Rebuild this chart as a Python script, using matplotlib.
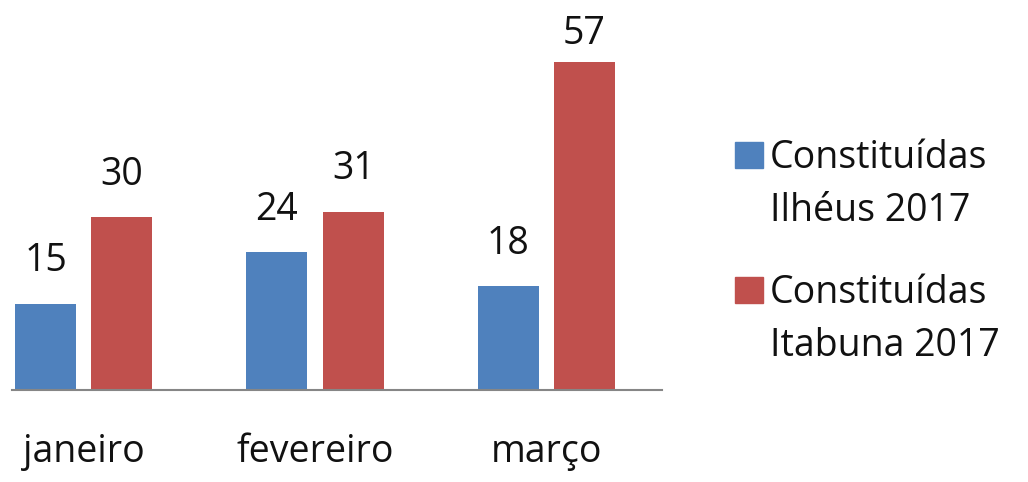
import numpy as np
import matplotlib.pyplot as plt
from matplotlib.patches import Rectangle

categories = ["janeiro", "fevereiro", "março"]
ilheus = [15, 24, 18]
itabuna = [30, 31, 57]
series_names = ["Constituídas\nIlhéus 2017", "Constituídas\nItabuna 2017"]
colors = ["#4F81BD", "#C0504D"]

W, H = 1028, 482


def main():
    plt.rcParams["font.family"] = ["Open Sans", "DejaVu Sans"]
    fig = plt.figure(figsize=(W / 100, H / 100), dpi=100)
    fig.patch.set_facecolor("white")

    # plot area in pixel units -> figure fractions
    ax = fig.add_axes([12 / W, (H - 390) / H, 650 / W, (390 - 62) / H])

    x = np.arange(len(categories))
    width = 0.264
    off = 0.165
    for vals, dx, c in [(ilheus, -off, colors[0]), (itabuna, off, colors[1])]:
        ax.bar(x + dx, vals, width, color=c, zorder=2)
        for xi, v in zip(x + dx, vals):
            ax.text(xi, min(v + 5.6, 60.2), str(v), ha="center", va="baseline",
                    fontsize=27, color="#111111", clip_on=False)

    ax.set_xlim(-0.31, 2.5)
    ax.set_ylim(0, 57)
    ax.set_xticks(x)
    ax.set_xticklabels(categories, fontsize=27, color="#111111")
    ax.tick_params(axis="x", length=0, pad=31)
    ax.set_yticks([])
    for s in ["left", "right", "top"]:
        ax.spines[s].set_visible(False)
    ax.spines["bottom"].set_color("#868686")
    ax.spines["bottom"].set_linewidth(1.5)

    # legend, drawn by hand so the square sits on the first line
    for i, (name, c) in enumerate(zip(series_names, colors)):
        top = 142 + i * 135
        fig.patches.append(Rectangle((735 / W, (H - top - 26) / H), 28 / W, 26 / H,
                                     transform=fig.transFigure, color=c))
        line1, line2 = name.split("\n")
        fig.text(770 / W, (H - top - 26) / H, line1, fontsize=27, color="#111111",
                 va="baseline")
        fig.text(770 / W, (H - top - 79) / H, line2, fontsize=27, color="#111111",
                 va="baseline")

    fig.savefig("out.png", dpi=100)


if __name__ == "__main__":
    main()
